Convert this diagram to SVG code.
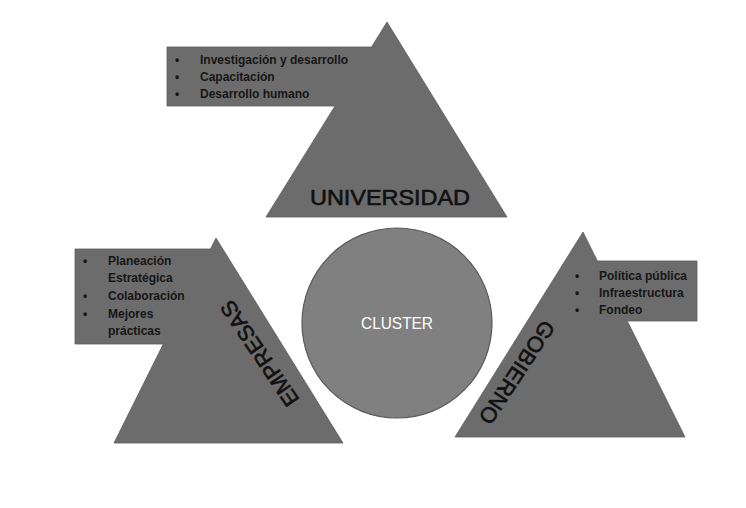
<svg xmlns="http://www.w3.org/2000/svg" width="746" height="508" viewBox="0 0 746 508">
<style>
.shape{fill:#6c6c6c;stroke:#5e5e5e;stroke-width:0.8}
.item{font-family:"Liberation Sans",Arial,sans-serif;font-weight:bold;font-size:12px;fill:#161616}
.label{font-family:"Liberation Sans",Arial,sans-serif;font-size:22px;fill:#111;stroke:#111;stroke-width:0.6}
</style>
<rect width="746" height="508" fill="#fff"/>
<g id="connectors"/>
<g id="universidad">
<polygon class="shape" points="387,22 507,217 266,217 335,106 167,106 167,47 371.5,47"/>
<text class="item" x="175" y="64">•</text>
<text class="item" x="175" y="81">•</text>
<text class="item" x="175" y="98">•</text>
<text class="item" x="200" y="64">Investigación y desarrollo</text>
<text class="item" x="200" y="81">Capacitación</text>
<text class="item" x="200" y="98">Desarrollo humano</text>
<text class="label" x="390" y="205" text-anchor="middle" font-size="25" textLength="160" lengthAdjust="spacingAndGlyphs">UNIVERSIDAD</text>
</g>
<g id="empresas">
<polygon class="shape" points="216,238 343,443 114,443 163.3,344 75,344 75,249 210.5,249"/>
<text class="item" x="83" y="265">•</text>
<text class="item" x="83" y="300">•</text>
<text class="item" x="83" y="318">•</text>
<text class="item" x="108" y="265">Planeación</text>
<text class="item" x="108" y="282">Estratégica</text>
<text class="item" x="108" y="300">Colaboración</text>
<text class="item" x="108" y="318">Mejores</text>
<text class="item" x="108" y="335">prácticas</text>
<text class="label" transform="translate(259.5,353.5) rotate(-124)" text-anchor="middle" dy="0.35em">EMPRESAS</text>
</g>
<g id="gobierno">
<polygon class="shape" points="583,232 597.4,261 697,261 697,321 627.3,321 685,437 455,437"/>
<text class="item" x="575" y="280">•</text>
<text class="item" x="575" y="297">•</text>
<text class="item" x="575" y="314">•</text>
<text class="item" x="599" y="280">Política pública</text>
<text class="item" x="599" y="297">Infraestructura</text>
<text class="item" x="599" y="314">Fondeo</text>
<text class="label" transform="translate(517,372.5) rotate(123.5)" text-anchor="middle" dy="0.35em">GOBIERNO</text>
</g>
<g id="cluster">
<circle cx="397" cy="323" r="95" fill="#808080" stroke="#5a5a5a" stroke-width="1.2"/>
<text x="397" y="329" text-anchor="middle" font-family="'Liberation Sans',Arial,sans-serif" font-size="16.5" fill="#fff" textLength="72" lengthAdjust="spacingAndGlyphs">CLUSTER</text>
</g>
</svg>
